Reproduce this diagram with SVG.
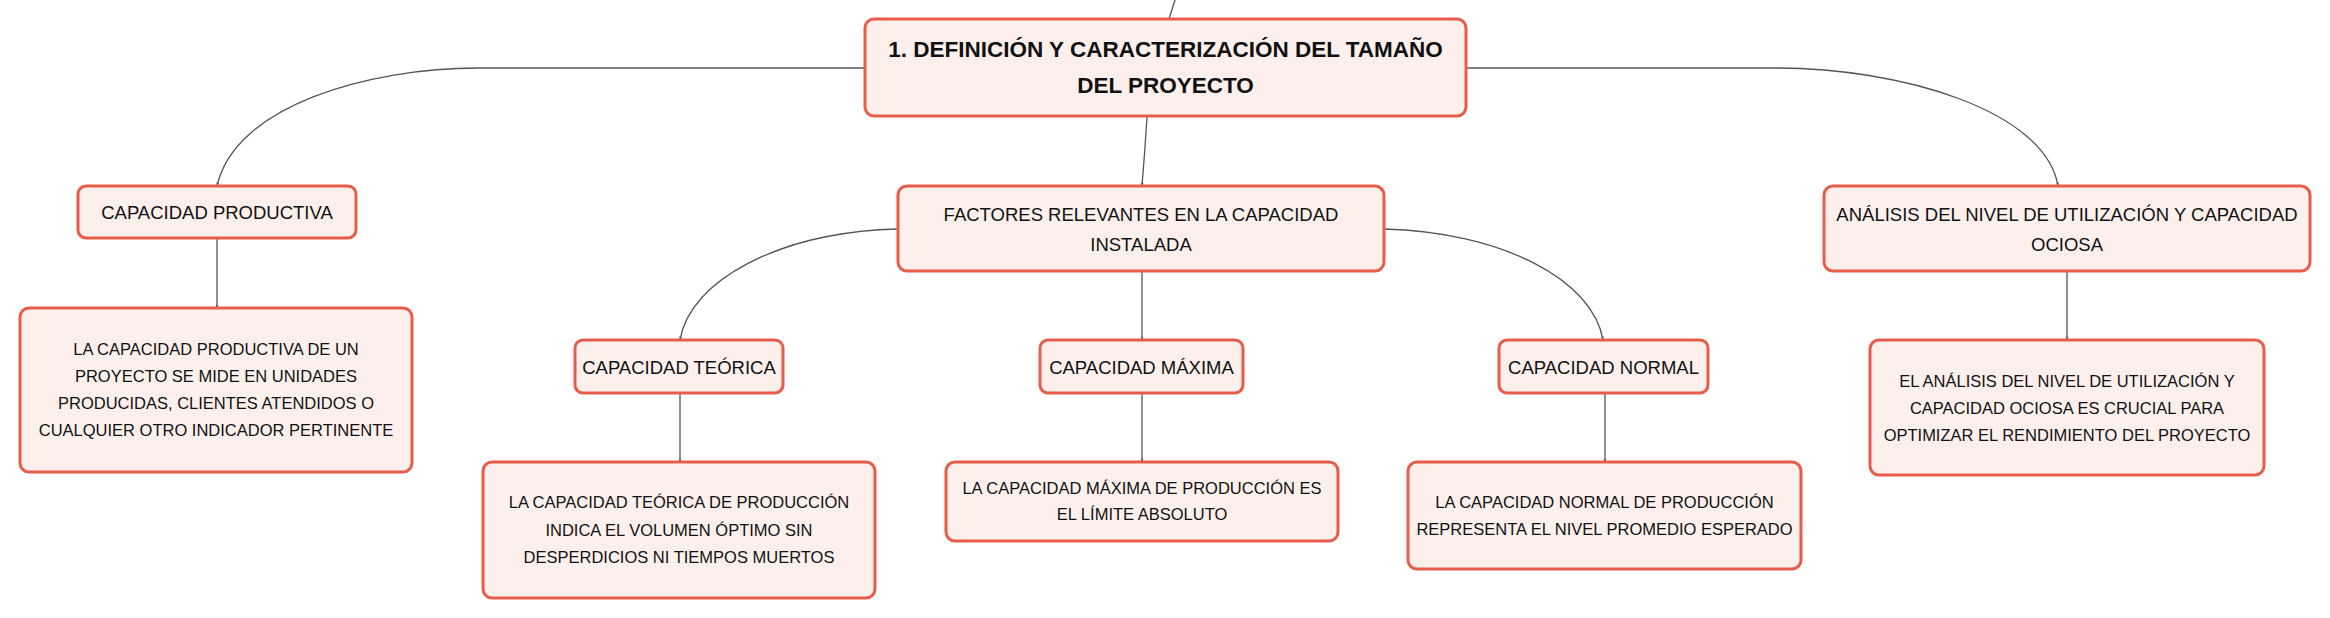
<svg xmlns="http://www.w3.org/2000/svg" width="2330" height="618" viewBox="0 0 2330 618">
<style>
.box{fill:#FDF0EC;stroke:#E85D4A;stroke-width:3}
.t{font-family:"Liberation Sans",Arial,sans-serif;font-size:18.5px;fill:#111;text-anchor:middle}
.d{font-family:"Liberation Sans",Arial,sans-serif;font-size:16.5px;fill:#111;text-anchor:middle}
.r{font-family:"Liberation Sans",Arial,sans-serif;font-size:22.5px;font-weight:bold;fill:#111;text-anchor:middle}
.c{fill:none;stroke:#555;stroke-width:1.3}
</style>
<defs>
<marker id="ah" markerWidth="4" markerHeight="4" refX="3.5" refY="2" orient="auto" markerUnits="userSpaceOnUse">
<path d="M0,0.6 L3.5,2 L0,3.4 Z" fill="#555"/>
</marker>
</defs>
<rect width="2330" height="618" fill="#fff"/>
<g id="connectors">
<path class="c" d="M1175,0 L1169,19"/>
<path class="c" marker-end="url(#ah)" d="M865,68 L478,68 C370,68 235,105 217,186"/>
<path class="c" marker-end="url(#ah)" d="M1466,68 L1776,68 C1900,68 2045,110 2058,186"/>
<path class="c" marker-end="url(#ah)" d="M1147,117 Q1145,150 1142,186"/>
<path class="c" marker-end="url(#ah)" d="M217,238 L217,308"/>
<path class="c" marker-end="url(#ah)" d="M898,229 C780,232 690,280 680,340"/>
<path class="c" marker-end="url(#ah)" d="M1384,229 C1502,232 1593,280 1603,340"/>
<path class="c" marker-end="url(#ah)" d="M1142,271 L1142,340"/>
<path class="c" marker-end="url(#ah)" d="M680,393 L680,462"/>
<path class="c" marker-end="url(#ah)" d="M1142,393 L1142,462"/>
<path class="c" marker-end="url(#ah)" d="M1605,393 L1605,462"/>
<path class="c" marker-end="url(#ah)" d="M2067,271 L2067,340"/>
</g>
<g id="root">
<rect class="box" x="865" y="19" width="601" height="97" rx="9"/>
<text class="r" x="1165.5" y="57">1. DEFINICIÓN Y CARACTERIZACIÓN DEL TAMAÑO</text>
<text class="r" x="1165.5" y="93">DEL PROYECTO</text>
</g>
<g id="capacidad-productiva">
<rect class="box" x="78" y="186" width="278" height="52" rx="8"/>
<text class="t" x="217" y="218.5">CAPACIDAD PRODUCTIVA</text>
</g>
<g id="capacidad-productiva-desc">
<rect class="box" x="20" y="308" width="392" height="164" rx="9"/>
<text class="d" x="216" y="355">LA CAPACIDAD PRODUCTIVA DE UN</text>
<text class="d" x="216" y="382">PROYECTO SE MIDE EN UNIDADES</text>
<text class="d" x="216" y="409">PRODUCIDAS, CLIENTES ATENDIDOS O</text>
<text class="d" x="216" y="436">CUALQUIER OTRO INDICADOR PERTINENTE</text>
</g>
<g id="factores">
<rect class="box" x="898" y="186" width="486" height="85" rx="9"/>
<text class="t" x="1141" y="220.5">FACTORES RELEVANTES EN LA CAPACIDAD</text>
<text class="t" x="1141" y="250.5">INSTALADA</text>
</g>
<g id="analisis">
<rect class="box" x="1824" y="186" width="486" height="85" rx="9"/>
<text class="t" x="2067" y="220.5">ANÁLISIS DEL NIVEL DE UTILIZACIÓN Y CAPACIDAD</text>
<text class="t" x="2067" y="250.5">OCIOSA</text>
</g>
<g id="capacidad-teorica">
<rect class="box" x="575" y="340" width="208" height="53" rx="8"/>
<text class="t" x="679" y="373.5">CAPACIDAD TEÓRICA</text>
</g>
<g id="capacidad-maxima">
<rect class="box" x="1040" y="340" width="203" height="53" rx="8"/>
<text class="t" x="1141.5" y="373.5">CAPACIDAD MÁXIMA</text>
</g>
<g id="capacidad-normal">
<rect class="box" x="1499" y="340" width="209" height="53" rx="8"/>
<text class="t" x="1603.5" y="373.5">CAPACIDAD NORMAL</text>
</g>
<g id="analisis-desc">
<rect class="box" x="1870" y="340" width="394" height="135" rx="9"/>
<text class="d" x="2067" y="387">EL ANÁLISIS DEL NIVEL DE UTILIZACIÓN Y</text>
<text class="d" x="2067" y="414">CAPACIDAD OCIOSA ES CRUCIAL PARA</text>
<text class="d" x="2067" y="441">OPTIMIZAR EL RENDIMIENTO DEL PROYECTO</text>
</g>
<g id="teorica-desc">
<rect class="box" x="483" y="462" width="392" height="136" rx="9"/>
<text class="d" x="679" y="508">LA CAPACIDAD TEÓRICA DE PRODUCCIÓN</text>
<text class="d" x="679" y="536">INDICA EL VOLUMEN ÓPTIMO SIN</text>
<text class="d" x="679" y="563">DESPERDICIOS NI TIEMPOS MUERTOS</text>
</g>
<g id="maxima-desc">
<rect class="box" x="946" y="462" width="392" height="79" rx="9"/>
<text class="d" x="1142" y="494">LA CAPACIDAD MÁXIMA DE PRODUCCIÓN ES</text>
<text class="d" x="1142" y="520">EL LÍMITE ABSOLUTO</text>
</g>
<g id="normal-desc">
<rect class="box" x="1408" y="462" width="393" height="107" rx="9"/>
<text class="d" x="1604.5" y="508">LA CAPACIDAD NORMAL DE PRODUCCIÓN</text>
<text class="d" x="1604.5" y="535">REPRESENTA EL NIVEL PROMEDIO ESPERADO</text>
</g>
</svg>
